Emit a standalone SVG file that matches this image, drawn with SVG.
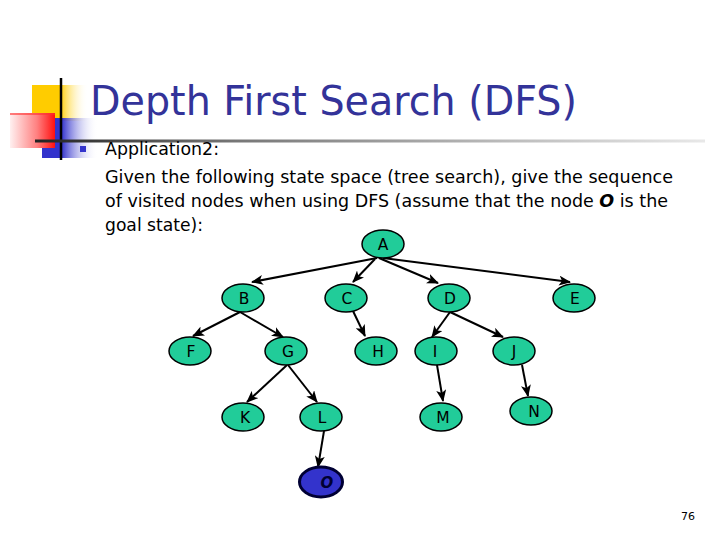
<svg xmlns="http://www.w3.org/2000/svg" width="720" height="540" viewBox="0 0 720 540">
<defs>
<style>
.title{font-family:"DejaVu Sans","Verdana",sans-serif;font-size:41px;fill:#333399}
.body{font-family:"DejaVu Sans","Verdana",sans-serif;font-size:17px;fill:#000}
.nd ellipse{fill:#21CC99;stroke:#000;stroke-width:1.5}
.nd text{font-family:"DejaVu Sans","Verdana",sans-serif;font-size:15.5px;fill:#000;text-anchor:middle}
.edges line{stroke:#000;stroke-width:2;marker-end:url(#arr)}
.pg{font-family:"DejaVu Sans",sans-serif;font-size:11px;fill:#000;text-anchor:middle}
</style>
<marker id="arr" markerUnits="userSpaceOnUse" markerWidth="12" markerHeight="10" viewBox="0 0 12 10" refX="11" refY="5" orient="auto">
<path d="M0,0 L12,5 L0,10 L3,5 Z" fill="#000"/>
</marker>
<linearGradient id="gy" x1="0" y1="0" x2="1" y2="0">
<stop offset="0" stop-color="#FFCC00"/><stop offset="0.5" stop-color="#FFCC00"/><stop offset="1" stop-color="#FFFFFF" stop-opacity="0"/>
</linearGradient>
<linearGradient id="gb" x1="0" y1="0" x2="1" y2="0">
<stop offset="0" stop-color="#3333CC"/><stop offset="0.35" stop-color="#3333CC"/><stop offset="1" stop-color="#FFFFFF" stop-opacity="0"/>
</linearGradient>
<linearGradient id="gr" x1="0" y1="0" x2="1" y2="0">
<stop offset="0" stop-color="#FFF0F0"/><stop offset="0.6" stop-color="#FF8080"/><stop offset="1" stop-color="#FF1010"/>
</linearGradient>
<linearGradient id="gl" x1="0" y1="0" x2="1" y2="0">
<stop offset="0" stop-color="#222222"/><stop offset="0.3" stop-color="#777777"/><stop offset="0.7" stop-color="#BBBBBB"/><stop offset="1" stop-color="#E8E8E8"/>
</linearGradient>
</defs>
<rect width="720" height="540" fill="#FFFFFF"/>
<g id="logo">
<rect x="32" y="85" width="56" height="36" fill="url(#gy)"/>
<rect x="42" y="118" width="56" height="40" fill="url(#gb)"/>
<rect x="10" y="113" width="45" height="35" fill="url(#gr)"/>
<rect x="10" y="113" width="45" height="2" fill="#FF3030" opacity="0.6"/>
<line x1="61" y1="78" x2="61" y2="160" stroke="#000" stroke-width="2.5"/>
<rect x="35" y="139.5" width="670" height="3" fill="url(#gl)"/>
<rect x="80" y="146" width="6" height="6" fill="#3333CC"/>
</g>
<text class="title" x="90" y="114.5" textLength="487" lengthAdjust="spacingAndGlyphs">Depth First Search (DFS)</text>
<g id="text">
<text class="body" x="105" y="155" textLength="114" lengthAdjust="spacingAndGlyphs">Application2:</text>
<text class="body" x="105" y="183" textLength="568" lengthAdjust="spacingAndGlyphs">Given the following state space (tree search), give the sequence</text>
<text class="body" x="105" y="207" textLength="563" lengthAdjust="spacingAndGlyphs">of visited nodes when using DFS (assume that the node <tspan font-weight="bold" font-style="italic">O</tspan> is the</text>
<text class="body" x="105" y="231" textLength="98" lengthAdjust="spacingAndGlyphs">goal state):</text>
</g>
<g id="connectors" class="edges">
<line x1="377" y1="258" x2="252" y2="282"/>
<line x1="375" y1="259" x2="353" y2="282"/>
<line x1="379" y1="258" x2="438" y2="283"/>
<line x1="383" y1="258" x2="570" y2="282"/>
<line x1="240" y1="312" x2="193" y2="336"/>
<line x1="240" y1="312" x2="283" y2="337"/>
<line x1="353" y1="311" x2="365" y2="336"/>
<line x1="450" y1="312" x2="432" y2="337"/>
<line x1="450" y1="312" x2="503" y2="337"/>
<line x1="287" y1="365" x2="247" y2="402"/>
<line x1="288" y1="365" x2="317" y2="402"/>
<line x1="324" y1="431" x2="318" y2="467"/>
<line x1="437" y1="365" x2="443" y2="401"/>
<line x1="522" y1="365" x2="528" y2="396"/>
</g>
<g id="A" class="nd"><ellipse cx="383" cy="244" rx="21" ry="14"/><text x="383" y="250">A</text></g>
<g id="B" class="nd"><ellipse cx="243" cy="298" rx="21" ry="14"/><text x="244" y="304">B</text></g>
<g id="C" class="nd"><ellipse cx="346" cy="298" rx="21" ry="14"/><text x="347" y="304">C</text></g>
<g id="D" class="nd"><ellipse cx="449" cy="298" rx="21" ry="14"/><text x="450" y="304">D</text></g>
<g id="E" class="nd"><ellipse cx="574" cy="298" rx="21" ry="14"/><text x="575" y="304">E</text></g>
<g id="F" class="nd"><ellipse cx="190" cy="351" rx="21" ry="14"/><text x="191" y="357">F</text></g>
<g id="G" class="nd"><ellipse cx="286" cy="351" rx="21" ry="14"/><text x="288" y="357">G</text></g>
<g id="H" class="nd"><ellipse cx="376" cy="351" rx="21" ry="14"/><text x="378" y="357">H</text></g>
<g id="I" class="nd"><ellipse cx="436" cy="351" rx="21" ry="14"/><text x="435" y="357">I</text></g>
<g id="J" class="nd"><ellipse cx="514" cy="351" rx="21" ry="14"/><text x="514" y="357">J</text></g>
<g id="K" class="nd"><ellipse cx="243" cy="417" rx="21" ry="14"/><text x="245" y="423">K</text></g>
<g id="L" class="nd"><ellipse cx="321" cy="417" rx="21" ry="14"/><text x="322" y="423">L</text></g>
<g id="M" class="nd"><ellipse cx="441" cy="417" rx="21" ry="14"/><text x="443" y="423">M</text></g>
<g id="N" class="nd"><ellipse cx="531" cy="411" rx="21" ry="14"/><text x="534" y="417">N</text></g>
<g id="O"><ellipse cx="321" cy="482" rx="21.5" ry="15" fill="#3333CC" stroke="#000033" stroke-width="3"/><text x="327" y="488" font-family="DejaVu Sans, sans-serif" font-size="15px" font-weight="bold" font-style="italic" fill="#000033" text-anchor="middle">O</text></g>
<text class="pg" x="688" y="520">76</text>
</svg>
